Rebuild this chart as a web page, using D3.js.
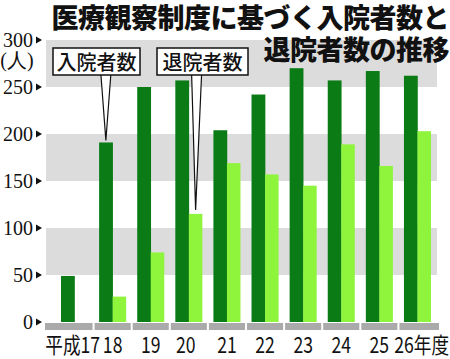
<!DOCTYPE html>
<html><head><meta charset="utf-8">
<script src="https://cdn.jsdelivr.net/npm/d3@7"></script>
<style>html,body{margin:0;padding:0;background:#fff;}svg{display:block;}</style>
</head><body>
<svg id="c" width="450" height="359"></svg>
<script>
const categories = ["17","18","19","20","21","22","23","24","25","26"];
const xLabels = ["平成17","18","19","20","21","22","23","24","25","26年度"];
const admissions = [49,191,250,257,204,242,270,257,267,262];
const discharges = [null,27,74,115,169,157,145,189,166,203];
const yTicks = [0,50,100,150,200,250,300];
const bandRanges = [[50,100],[150,200],[250,300]];
const titleLines = ["医療観察制度に基づく入院者数と","退院者数の推移"];
const unitLabel = "(人)";
const seriesNames = ["入院者数","退院者数"];

const svg = d3.select("#c");
const x = d3.scaleBand().domain(categories).range([61,431]).paddingInner(0.29).paddingOuter(0);
const y = d3.scaleLinear().domain([0,300]).range([322,40]);
const bw = x.bandwidth();
const step = x.step();
const DARK = "#0b7c15", LIGHT = "#8ef43c";

// gray bands
svg.append("g").selectAll("rect").data(bandRanges).join("rect")
  .attr("x",46).attr("width",391)
  .attr("y",d=>y(d[1])).attr("height",d=>y(d[0])-y(d[1]))
  .attr("fill","#dcdcdc");

// bars
const g = svg.append("g");
g.selectAll("rect.a").data(categories).join("rect").attr("class","a")
  .attr("x",d=>x(d)).attr("width",bw/2+0.3)
  .attr("y",(d,i)=>y(admissions[i])).attr("height",(d,i)=>y(0)-y(admissions[i]))
  .attr("fill",DARK);
g.selectAll("rect.b").data(categories.filter((d,i)=>discharges[i]!=null)).join("rect").attr("class","b")
  .attr("x",d=>x(d)+bw/2).attr("width",bw/2)
  .attr("y",d=>y(discharges[categories.indexOf(d)])).attr("height",d=>y(0)-y(discharges[categories.indexOf(d)]))
  .attr("fill",LIGHT);

// baseline segments
svg.append("g").selectAll("rect").data(categories).join("rect")
  .attr("x",(d,i)=> i===0 ? 45 : x(d)+bw/2-step/2+1)
  .attr("width",(d,i)=>{
     const l = i===0 ? 45 : x(d)+bw/2-step/2+1;
     const r = i===categories.length-1 ? 439 : x(d)+bw/2+step/2-1;
     return r-l;})
  .attr("y",y(0)+1).attr("height",7).attr("fill","#aaaaaa");

// y axis labels
const ya = svg.append("g");
ya.selectAll("text").data(yTicks).join("text")
  .attr("x",33).attr("y",d=>y(d)+7).attr("text-anchor","end")
  .attr("font-family","'Liberation Serif','DejaVu Serif',serif").attr("font-size",20)
  .attr("fill","#111").text(d=>d);
ya.selectAll("path").data(yTicks).join("path")
  .attr("d",d=>`M36,${y(d)-3.5}L42,${y(d)}L36,${y(d)+3.5}Z`).attr("fill","#111");
svg.append("text").attr("x",17).attr("y",67).attr("text-anchor","middle")
  .attr("font-family","'Liberation Serif','DejaVu Serif',serif").attr("font-size",20)
  .attr("fill","#111").text(unitLabel);

// x labels
const xl = svg.append("g");
xLabels.forEach((t,i)=>{
  const c = x(categories[i])+bw/2;
  let px = c, anchor="middle";
  if(i===0){px=100;anchor="end";}
  if(i===xLabels.length-1){px=449;anchor="end";}
  if(i===3) px = c-3;
  xl.append("text").attr("transform",`translate(${px},352.5) scale(0.8,1)`)
    .attr("text-anchor",anchor)
    .attr("font-family","'Noto Sans CJK JP','Noto Sans',sans-serif").attr("font-size",22)
    .attr("fill","#111").text(t);
});

// title (one text, two lines)
const tt = svg.append("text").attr("text-anchor","end")
  .attr("font-family","'Noto Sans CJK JP',sans-serif").attr("font-weight",900)
  .attr("font-size",27).attr("letter-spacing",-0.5).attr("fill","#111");
tt.selectAll("tspan").data(titleLines).join("tspan")
  .attr("x",449).attr("y",(d,i)=>i===0?28:60).text(d=>d);

// callouts
function callout(label, bx, tipX, tipY, baseL, baseR){
  const c = svg.append("g");
  c.append("path").attr("d",`M${baseL},74 L${tipX},${tipY} L${baseR},74`)
    .attr("fill","#fff").attr("stroke","#111").attr("stroke-width",1.2);
  c.append("rect").attr("x",bx[0]).attr("y",48).attr("width",bx[1]-bx[0]).attr("height",27)
    .attr("fill","#fff").attr("stroke","#111").attr("stroke-width",1.5);
  c.append("text").attr("x",(bx[0]+bx[1])/2).attr("y",70).attr("text-anchor","middle")
    .attr("font-family","'Noto Sans CJK JP',sans-serif").attr("font-weight",500)
    .attr("font-size",20).attr("fill","#111").text(label);
}
const t1x = x("18")+bw/4, t1y = y(admissions[1])-2;
callout(seriesNames[0],[53,140],t1x,t1y,t1x-5,t1x+5);
const t2x = x("20")+bw*3/4, t2y = y(discharges[3])-4;
callout(seriesNames[1],[157,248],t2x,t2y,t2x-4,t2x+6);
</script>
</body></html>
